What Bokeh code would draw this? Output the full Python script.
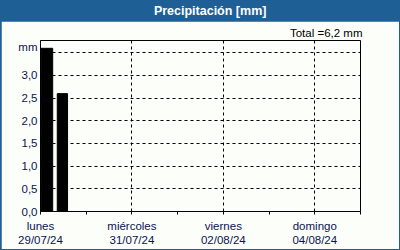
from bokeh.plotting import figure
from bokeh.layouts import column
from bokeh.models import FixedTicker, Label
from bokeh.embed import file_html
from bokeh.resources import INLINE

# ---- data ----
chart_title = "Precipitación [mm]"
unit_label = "mm"
unit_label_pos = 3.62
day_ticks = [0, 2, 4, 6]
day_labels = ["lunes\n29/07/24", "miércoles\n31/07/24", "viernes\n02/08/24", "domingo\n04/08/24"]
minor_day_ticks = [1, 3, 5, 7]
bar_start_h = [0.3, 8.8]     # hours after 29/07/24 00:00
bar_end_h = [6.4, 14.2]
precip_mm = [3.6, 2.6]
y_ticks = [0.0, 0.5, 1.0, 1.5, 2.0, 2.5, 3.0]
y_labels = ["0,0", "0,5", "1,0", "1,5", "2,0", "2,5", "3,0"]
y_grid = [0.5, 1.0, 1.5, 2.0, 2.5, 3.0, 3.5]

BLUE = "#1e5f96"
BG = "#fcfefa"
FONT = "Liberation Sans"
TXT = "#0a1450"

# ---- header bar ----
head = figure(width=400, height=21, x_range=(0, 400), y_range=(0, 21),
              toolbar_location=None, output_backend="svg", min_border=0,
              x_axis_location=None, y_axis_location=None,
              background_fill_color=BLUE, border_fill_color=BLUE,
              outline_line_color=None)
head.grid.visible = False
head.add_layout(Label(x=212, y=10.5, text=chart_title, text_align="center",
                      text_baseline="middle", text_color="white",
                      text_font=FONT, text_font_size="12.5px",
                      text_font_style="bold"))

# ---- main chart ----
total = sum(precip_mm)
p = figure(width=398, height=228, x_range=(0, 7), y_range=(0, 3.772),
           toolbar_location=None, output_backend="svg",
           min_border_left=39, min_border_right=39,
           min_border_top=19, min_border_bottom=38,
           background_fill_color=BG, border_fill_color=BG,
           outline_line_color="black", outline_line_width=1,
           margin=(0, 1, 1, 1),
           title=("Total =%.1f mm" % total).replace(".", ","))
p.title.align = "right"
p.title.text_font = FONT
p.title.text_font_size = "11.5px"
p.title.text_font_style = "normal"
p.title.text_color = "black"
p.title.standoff = 4
p.title.offset = -2

p.quad(left=[h / 24 for h in bar_start_h], right=[h / 24 for h in bar_end_h],
       bottom=0, top=precip_mm, fill_color="black", line_color="black")

p.xaxis.ticker = FixedTicker(ticks=day_ticks, minor_ticks=minor_day_ticks)
p.xaxis.major_label_overrides = dict(zip(day_ticks, day_labels))
p.xaxis.major_tick_in = 0
p.xaxis.major_tick_out = 3
p.xaxis.minor_tick_in = 0
p.xaxis.minor_tick_out = 3
p.xaxis.major_label_standoff = 5

p.yaxis.ticker = FixedTicker(ticks=y_ticks + [unit_label_pos], minor_ticks=[])
p.yaxis.major_label_overrides = dict(zip(y_ticks + [unit_label_pos], y_labels + [unit_label]))
p.yaxis.major_tick_in = 0
p.yaxis.major_tick_out = 0
p.yaxis.minor_tick_in = 0
p.yaxis.minor_tick_out = 0
p.yaxis.major_label_standoff = 3

for ax in (p.xaxis[0], p.yaxis[0]):
    ax.axis_line_color = "black"
    ax.major_tick_line_color = "black"
    ax.minor_tick_line_color = "black"
    ax.major_label_text_font = FONT
    ax.major_label_text_font_size = "11.5px"
    ax.major_label_text_color = TXT

p.xgrid.ticker = FixedTicker(ticks=day_ticks)
p.ygrid.ticker = FixedTicker(ticks=y_grid)
for g in (p.xgrid[0], p.ygrid[0]):
    g.grid_line_color = "black"
    g.grid_line_dash = "3 3"
    g.grid_line_width = 1

layout = column(head, p, styles={"background-color": BLUE}, spacing=0)

open("out.html", "w").write(file_html(layout, INLINE))
